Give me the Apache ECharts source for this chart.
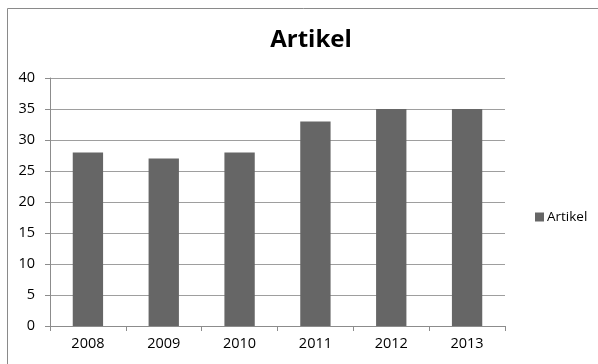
<!DOCTYPE html>
<html>
<head>
<meta charset="utf-8">
<script src="https://cdn.jsdelivr.net/npm/echarts@6/dist/echarts.min.js"></script>
<style>
  html, body { margin: 0; padding: 0; background: #fff; }
  #chart { width: 598px; height: 364px; }
</style>
</head>
<body>
<div id="chart"></div>
<script>
// Article counts per year
const years = ['2008', '2009', '2010', '2011', '2012', '2013'];
const artikel = [28, 27, 28, 33, 35, 35];
const seriesName = 'Artikel';
const yTicks = { min: 0, max: 40, interval: 5 };

const font = '"Open Sans", "Noto Sans", sans-serif';
const chart = echarts.init(document.getElementById('chart'), null, { renderer: 'canvas' });

chart.setOption({
  backgroundColor: '#fff',
  animation: false,
  title: {
    text: seriesName,
    left: 306,
    top: 23,
    textAlign: 'center',
    textStyle: { fontFamily: font, fontSize: 24, fontWeight: 'bold', color: '#000' }
  },
  legend: {
    data: [seriesName],
    left: 530,
    top: 205,
    itemWidth: 9,
    itemHeight: 9,
    itemGap: 4,
    icon: 'rect',
    textStyle: { fontFamily: font, fontSize: 13.5, color: '#000', padding: [0, 0, 0, -2] }
  },
  grid: { left: 50, right: 93, top: 78, bottom: 38 },
  xAxis: {
    type: 'category',
    data: years,
    axisLine: { lineStyle: { color: '#8c8c8c', width: 1 } },
    axisTick: { show: true, length: 5, lineStyle: { color: '#8c8c8c' } },
    axisLabel: { fontFamily: font, fontSize: 14.5, color: '#000', margin: 10 }
  },
  yAxis: {
    type: 'value',
    min: yTicks.min,
    max: yTicks.max,
    interval: yTicks.interval,
    axisLine: { show: true, lineStyle: { color: '#8c8c8c', width: 1 } },
    axisTick: { show: true, length: 5, lineStyle: { color: '#8c8c8c' } },
    axisLabel: { fontFamily: font, fontSize: 14.5, color: '#000', margin: 15 },
    splitLine: { lineStyle: { color: '#9e9e9e', width: 1 } }
  },
  series: [{
    name: seriesName,
    type: 'bar',
    data: artikel,
    barWidth: '40%',
    itemStyle: { color: '#666666' }
  }],
  graphic: [{
    type: 'rect',
    shape: { x: 7.5, y: 8.5, width: 620, height: 400 },
    style: { fill: 'none', stroke: '#8a8a8a', lineWidth: 1 },
    silent: true,
    z: 100
  }]
});
</script>
</body>
</html>
